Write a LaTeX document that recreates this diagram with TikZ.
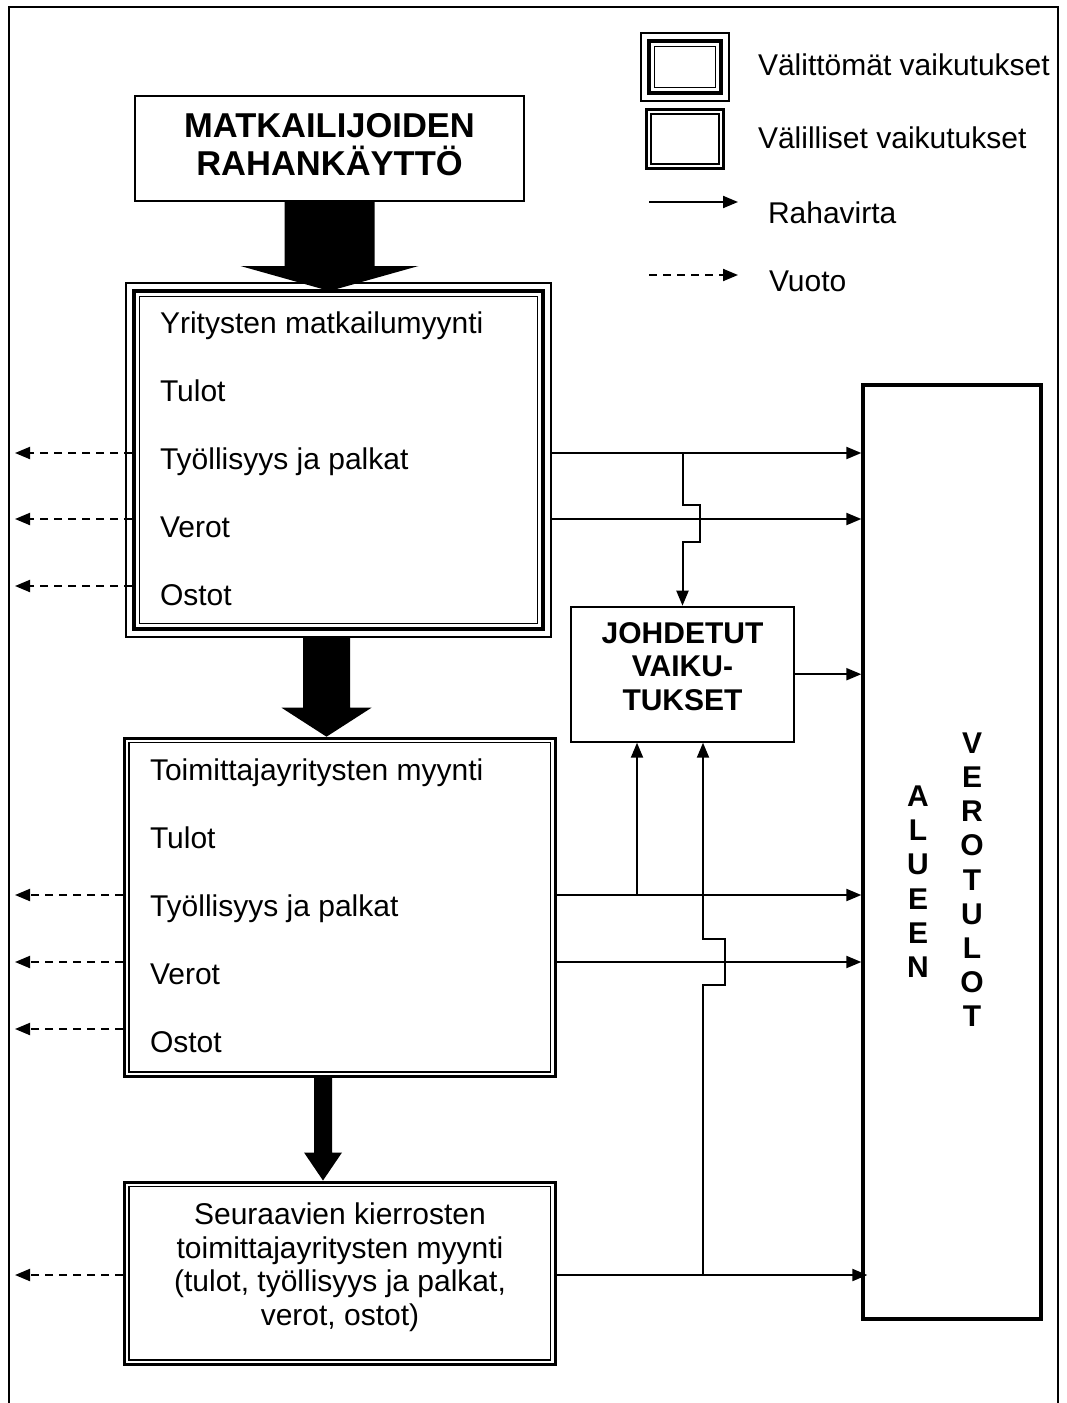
\documentclass[tikz,border=0pt]{standalone}
\usepackage{fontspec}
\setmainfont{Liberation Sans}
\usepackage{tikz}
\usetikzlibrary{calc, arrows.meta, positioning}

\newcommand{\directframe}[1]{
  \draw[line width=1.2pt] (#1.north west) rectangle (#1.south east);
  \draw[line width=4.5pt] ($(#1.north west)+(8,8)$) rectangle ($(#1.south east)+(-8,-8)$);
  \draw[line width=1.2pt] ($(#1.north west)+(13.5,13.5)$) rectangle ($(#1.south east)+(-13.5,-13.5)$);
}
\newcommand{\indirectframe}[1]{
  \draw[line width=3pt] ($(#1.north west)+(1.5,1.5)$) rectangle ($(#1.south east)+(-1.5,-1.5)$);
  \draw[line width=1.2pt] ($(#1.north west)+(6,6)$) rectangle ($(#1.south east)+(-6,-6)$);
}

\begin{document}
\begin{tikzpicture}[x=1pt, y=-1pt, line width=2pt, >={Triangle[length=15pt,width=12pt]},
  area/.style 2 args={inner sep=0pt, minimum width=#1pt, minimum height=#2pt},
  txt/.style={inner sep=0pt, font=\fontsize{30}{33.5}\selectfont},
  bold/.style={inner sep=0pt, align=center, font=\bfseries\fontsize{30}{33.5}\selectfont},
  letters/.style={inner sep=0pt, align=center, font=\bfseries\fontsize{30}{34.2}\selectfont},
  leak/.style={->, dash pattern=on 8pt off 6pt}]
\useasboundingbox (0,0) rectangle (1067,1403);
\draw[line width=2pt] (9,1403) -- (9,7) -- (1058,7) -- (1058,1403);

\node[area={86}{66}] (legdirect) at (685,67) {};
\node[area={78}{60}] (legindirect) at (685,139) {};
\directframe{legdirect}
\indirectframe{legindirect}
\node[txt, anchor=base west] (legdirecttxt) at (757,75) {Välittömät vaikutukset};
\node[txt, anchor=base west] (legindirecttxt) at (757,148) {Välilliset vaikutukset};
\coordinate (flow0) at (649,202);
\coordinate (flow1) at (738,202);
\coordinate (leak0) at (649,275);
\coordinate (leak1) at (738,275);
\draw[->] (flow0) -- (flow1);
\draw[leak] (leak0) -- (leak1);
\node[txt, anchor=base west] (flowtxt) at (767,223) {Rahavirta};
\node[txt, anchor=base west] (leaktxt) at (768,291) {Vuoto};

\node[area={389}{105}, draw] (spend) at (329.5,148.5) {};
\node[inner sep=0pt, align=center, font=\bfseries\fontsize{34.5}{38.5}\selectfont] (spendtxt) at (329.5,144.8) {MATKAILIJOIDEN\\RAHANKÄYTTÖ};

\node[area={423}{352}] (direct) at (338.5,460) {};
\node[area={431.5}{339.3}] (supply) at (339.75,907.35) {};
\node[area={431.5}{183.5}] (rounds) at (339.75,1273.25) {};
\node[area={223}{135}, draw] (johd) at (682.5,674.2) {};
\node[area={178}{934}, draw, line width=3.3pt] (alue) at (952,852) {};
\directframe{direct}
\indirectframe{supply}
\indirectframe{rounds}

\foreach \lbl [count=\i] in {Yritysten matkailumyynti, Tulot, Työllisyys ja palkat, Verot, Ostot}
{
  \node[txt, anchor=base west] (direct\i) at (159,265+68*\i) {\lbl};
}
\foreach \lbl [count=\i] in {Toimittajayritysten myynti, Tulot, Työllisyys ja palkat, Verot, Ostot}
{
  \node[txt, anchor=base west] (supply\i) at (149,712+68*\i) {\lbl};
}
\node[txt, align=center] (roundstxt) at (340,1267.4) {Seuraavien kierrosten\\toimittajayritysten myynti\\(tulot, työllisyys ja palkat,\\verot, ostot)};
\node[bold] (johdtxt) at (682.5,666.5) {JOHDETUT\\VAIKU-\\TUKSET};
\node[letters] (alueen) at (918,881.75) {A\\L\\U\\E\\E\\N};
\node[letters] (verotulot) at (972,879.75) {V\\E\\R\\O\\T\\U\\L\\O\\T};

\foreach \a/\b/\x/\s/\h/\l/\t in {spend/direct/329.5/45/89/25/8, direct/supply/326.5/23.5/45/29/0, supply/rounds/323/9/19/28/0}
{
  \fill (\x-\s,0 |- \a.south) -- (\x+\s,0 |- \a.south) -- ($(\x+\s,0 |- \b.north)+(0,\t-\l)$)
    -- ($(\x+\h,0 |- \b.north)+(0,\t-\l)$) -- ($(\x,0 |- \b.north)+(0,\t)$)
    -- ($(\x-\h,0 |- \b.north)+(0,\t-\l)$) -- ($(\x-\s,0 |- \b.north)+(0,\t-\l)$) -- cycle;
}

\foreach \y [count=\i] in {453,519,586,895,962,1029,1275}
{
  \coordinate (row\i) at (15,\y);
}
\foreach \i in {1,2,3}
{
  \draw[leak] ([xshift=6pt]direct.west |- row\i) -- (row\i);
}
\foreach \i in {4,5,6}
{
  \draw[leak] (supply.west |- row\i) -- (row\i);
}
\draw[leak] (rounds.west |- row7) -- (row7);
\foreach \i in {1,2}
{
  \draw[->] (direct.east |- row\i) -- (alue.west |- row\i);
}
\foreach \i in {4,5}
{
  \draw[->] (supply.east |- row\i) -- (alue.west |- row\i);
}
\draw[->, shorten >=-6pt] (rounds.east |- row7) -- (alue.west |- row7);
\draw[->] (johd.east) -- (alue.west |- johd.east);

\coordinate (jin1) at ($(johd.south west)+(67,0)$);
\coordinate (jin2) at ($(johd.south west)+(133,0)$);
\draw[->] (johd.north |- row1) -- ($(johd.north |- row2)+(0,-14)$) -- ++(17,0) -- ++(0,37) -- ++(-17,0) -- (johd.north);
\draw[->] (jin1 |- row4) -- (jin1);
\draw[->] (jin2 |- row7) -- ($(jin2 |- row5)+(0,23)$) -- ++(22,0) -- ++(0,-46) -- ++(-22,0) -- (jin2);

\end{tikzpicture}
\end{document}
